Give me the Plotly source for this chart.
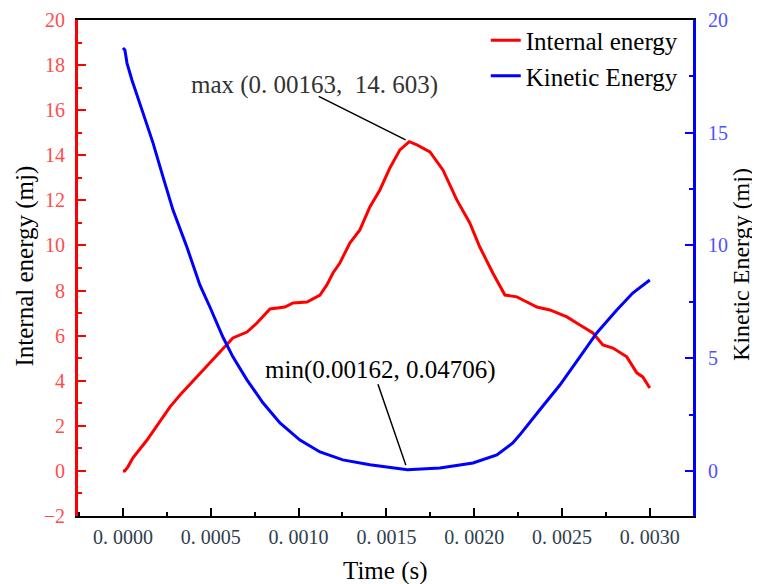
import plotly.graph_objects as go

# ---- data ----
t_internal = [0.0, 0.00001, 0.000028, 0.000057, 0.000137, 0.000211, 0.000268, 0.000325, 0.000421,
              0.000495, 0.000581, 0.000626, 0.000706, 0.000763, 0.000837, 0.000877, 0.000922, 0.000968,
              0.001048, 0.001122, 0.001161, 0.001196, 0.001235, 0.001292, 0.001349, 0.001406, 0.001463,
              0.00152, 0.001577, 0.00163, 0.001674, 0.001748, 0.001822, 0.001901, 0.001975, 0.002032,
              0.002106, 0.002175, 0.002243, 0.0023, 0.002357, 0.002431, 0.002528, 0.002602, 0.002676,
              0.002733, 0.00279, 0.002869, 0.002926, 0.00296, 0.003]
e_internal = [0.0, 0.0, 0.18, 0.58, 1.37, 2.17, 2.84, 3.37, 4.17, 4.83, 5.50, 5.90, 6.16, 6.56, 7.18,
              7.23, 7.27, 7.45, 7.49, 7.80, 8.25, 8.78, 9.22, 10.11, 10.69, 11.71, 12.46, 13.44, 14.24,
              14.603, 14.46, 14.15, 13.35, 12.02, 11.00, 9.93, 8.78, 7.80, 7.72, 7.49, 7.27, 7.14, 6.83,
              6.47, 6.12, 5.59, 5.45, 5.06, 4.35, 4.17, 3.68]

t_kinetic = [0.0, 0.000011, 0.000023, 0.000051, 0.000114, 0.000171, 0.000228, 0.000285, 0.000364,
             0.000438, 0.000495, 0.000569, 0.000626, 0.000706, 0.000797, 0.000894, 0.001008, 0.001122,
             0.001252, 0.001406, 0.00162, 0.001805, 0.001993, 0.002129, 0.00222, 0.00226, 0.002374,
             0.002488, 0.002602, 0.002698, 0.002812, 0.002903, 0.003]
e_kinetic = [18.76, 18.67, 18.09, 17.34, 15.88, 14.55, 13.04, 11.57, 9.93, 8.25, 7.27, 5.94, 5.06, 4.04,
             3.02, 2.13, 1.37, 0.84, 0.49, 0.27, 0.04706, 0.13, 0.35, 0.71, 1.24, 1.60, 2.71, 3.81,
             5.06, 6.12, 7.14, 7.89, 8.47]

x_tickvals = [0.0, 0.0005, 0.0010, 0.0015, 0.0020, 0.0025, 0.0030]
x_ticktext = ["0. 0000", "0. 0005", "0. 0010", "0. 0015", "0. 0020", "0. 0025", "0. 0030"]
left_ticks = [-2, 0, 2, 4, 6, 8, 10, 12, 14, 16, 18, 20]
right_ticks = [0, 5, 10, 15, 20]

x_title = "Time (s)"
y_title = "Internal energy (mj)"
y2_title = "Kinetic Energy (mj)"
max_label = "max (0. 00163,  14. 603)"
min_label = "min(0.00162, 0.04706)"

SERIF = "Liberation Serif, Times New Roman, serif"

i_max = e_internal.index(max(e_internal))
i_min = e_kinetic.index(min(e_kinetic))

fig = go.Figure()
fig.add_trace(go.Scatter(x=t_internal, y=e_internal, mode="lines", name="Internal energy",
                         line=dict(color="#ff0000", width=3), yaxis="y"))
fig.add_trace(go.Scatter(x=t_kinetic, y=e_kinetic, mode="lines", name="Kinetic Energy",
                         line=dict(color="#0000ff", width=3), yaxis="y2"))

# the page body adds an 8px margin, so the figure is 752x576 to fit the 760x584 window
fig.update_layout(
    width=752, height=576,
    margin=dict(l=70, r=67, t=12, b=68, autoexpand=False),
    paper_bgcolor="white", plot_bgcolor="white",
    font=dict(family=SERIF, size=24, color="black"),
    showlegend=True,
    legend=dict(x=0.985, xanchor="right", y=1.005, yanchor="top", bgcolor="rgba(0,0,0,0)",
                font=dict(family=SERIF, size=25, color="black"), tracegroupgap=0,
                borderwidth=0),
    xaxis=dict(
        range=[-0.000256, 0.003246], tickvals=x_tickvals, ticktext=x_ticktext,
        showgrid=False, zeroline=False, automargin=False,
        showline=True, linecolor="black", linewidth=2, mirror=True,
        ticks="inside", ticklen=8, tickwidth=2, tickcolor="black",
        minor=dict(ticks="inside", ticklen=4, tickwidth=2, tickcolor="black", dtick=0.00025, tick0=0),
        tickfont=dict(family=SERIF, size=20, color="#2f3e4e"), ticklabelstandoff=2,
    ),
    yaxis=dict(
        range=[-2, 20], tickvals=left_ticks,
        showgrid=False, zeroline=False, automargin=False,
        showline=True, linecolor="#ff0000", linewidth=3,
        ticks="inside", ticklen=8, tickwidth=2, tickcolor="#ff0000",
        minor=dict(ticks="inside", ticklen=4, tickwidth=2, tickcolor="#ff0000", dtick=1, tick0=0),
        tickfont=dict(family=SERIF, size=20, color="#ff4d4d"), ticklabelstandoff=6,
    ),
    yaxis2=dict(
        range=[-2, 20], tickvals=right_ticks, overlaying="y", side="right",
        showgrid=False, zeroline=False, automargin=False,
        showline=True, linecolor="#0000ff", linewidth=3,
        ticks="inside", ticklen=8, tickwidth=2, tickcolor="#0000ff",
        minor=dict(ticks="inside", ticklen=4, tickwidth=2, tickcolor="#0000ff", dtick=2.5, tick0=0),
        tickfont=dict(family=SERIF, size=20, color="#5050ff"), ticklabelstandoff=8,
    ),
)

# axis titles
fig.add_annotation(x=0.5, y=-0.111, xref="paper", yref="paper", text=x_title, showarrow=False,
                   xanchor="center", yanchor="middle", font=dict(family=SERIF, size=25, color="black"))
fig.add_annotation(x=-0.0862, y=0.505, xref="paper", yref="paper", text=y_title, showarrow=False,
                   textangle=-90, xanchor="center", yanchor="middle",
                   font=dict(family=SERIF, size=25, color="black"))
fig.add_annotation(x=1.077, y=0.507, xref="paper", yref="paper", text=y2_title, showarrow=False,
                   textangle=-90, xanchor="center", yanchor="middle",
                   font=dict(family=SERIF, size=24, color="black"))

# leader lines
fig.add_annotation(x=t_internal[i_max], y=e_internal[i_max], xref="x", yref="y", text="",
                   showarrow=True, arrowhead=0, arrowwidth=1.5, arrowcolor="black",
                   ax=-92, ay=-46, standoff=4)
fig.add_annotation(x=t_kinetic[i_min], y=e_kinetic[i_min], xref="x", yref="y2", text="",
                   showarrow=True, arrowhead=0, arrowwidth=1.5, arrowcolor="black",
                   ax=-30, ay=-87, standoff=5)
# labels
fig.add_annotation(x=0.001088, y=17.12, xref="x", yref="y", text=max_label, showarrow=False,
                   xanchor="center", yanchor="middle",
                   font=dict(family=SERIF, size=25, color="#333333"))
fig.add_annotation(x=0.001469, y=4.48, xref="x", yref="y", text=min_label, showarrow=False,
                   xanchor="center", yanchor="middle",
                   font=dict(family=SERIF, size=25, color="black"))

fig.write_html("out.html")
